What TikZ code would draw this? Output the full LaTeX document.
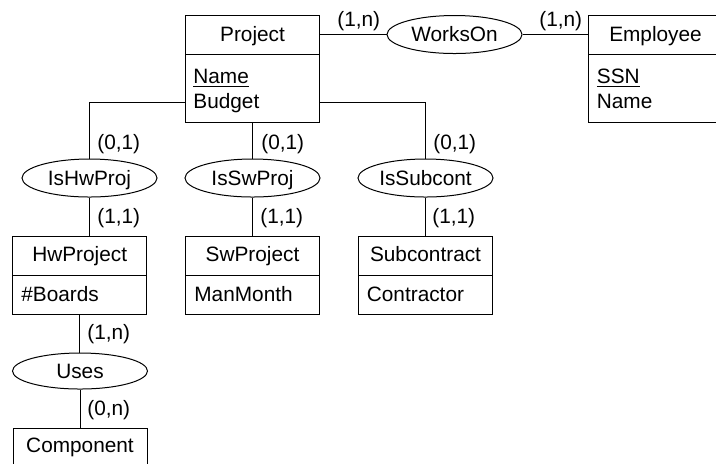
\documentclass[tikz,border=0pt]{standalone}
\usepackage{fontspec}
\setmainfont{Liberation Sans}
\usetikzlibrary{shapes.geometric}
\begin{document}
\begin{tikzpicture}[x=0.5pt,y=-0.5pt,
  every node/.style={font=\fontsize{10.4}{12.5}\selectfont},
  line/.style={draw=black,line width=0.5pt},
  entity/.style={draw=black,line width=0.5pt,rectangle,minimum width=67pt,inner sep=0pt},
  rel/.style={draw=black,line width=0.5pt,ellipse,minimum width=67.5pt,minimum height=19pt,
    inner sep=0pt,text height=7.4pt,text depth=0pt},
  title/.style={anchor=base,inner sep=0pt},
  attr/.style={anchor=base west,inner sep=0pt},
  card/.style={anchor=base west,inner sep=0pt}
]
\clip (0,0) rectangle (716,463);

% helper rows
\coordinate (headrow) at (0,54);
\coordinate (budgetrow) at (0,102);

% entities
\node[entity,minimum height=53.5pt] (project) at (252.5,68.5) {};
\draw[line] (project.west |- headrow) -- (project.east |- headrow);
\node[title] (projectT) at (252.5,41) {Project};
\node[attr] (projectA1) at (193,83) {\underline{Name}};
\node[attr] (projectA2) at (193,108.5) {Budget};

\node[entity,minimum height=53.5pt] (employee) at (655.5,68.5) {};
\draw[line] (employee.west |- headrow) -- (employee.east |- headrow);
\node[title] (employeeT) at (655.5,41) {Employee};
\node[attr] (employeeA1) at (596.5,83) {\underline{SSN}};
\node[attr] (employeeA2) at (596.5,108.5) {Name};

\node[entity,minimum height=39pt] (hw) at (79.7,275) {};
\draw[line] (hw.west) -- (hw.east);
\node[title] (hwT) at (79.7,261.5) {HwProject};
\node[attr] (hwA) at (21,301.5) {\#Boards};

\node[entity,minimum height=39pt] (sw) at (252.5,275) {};
\draw[line] (sw.west) -- (sw.east);
\node[title] (swT) at (252.5,261.5) {SwProject};
\node[attr] (swA) at (194,301.5) {ManMonth};

\node[entity,minimum height=39pt] (sub) at (425.5,275) {};
\draw[line] (sub.west) -- (sub.east);
\node[title] (subT) at (425.5,261.5) {Subcontract};
\node[attr] (subA) at (366.5,301.5) {Contractor};

\node[entity,minimum height=42pt] (comp) at (80,470) {};
\node[title] (compT) at (80,452) {Component};

% relationships
\node[rel] (worksOn) at (454.5,34.5) {WorksOn};
\node[rel] (ishw) at (89.5,178) {IsHwProj};
\node[rel] (issw) at (252.5,178) {IsSwProj};
\node[rel] (issub) at (425.5,178) {IsSubcont};
\node[rel,minimum height=18pt] (uses) at (80,371) {Uses};

% connectors
\draw[line] (project.east |- worksOn) -- (worksOn.west);
\draw[line] (worksOn.east) -- (employee.west |- worksOn);
\draw[line] (project.west |- budgetrow) -| (ishw.north);
\draw[line] (project.south) -- (issw.north);
\draw[line] (project.east |- budgetrow) -| (issub.north);
\draw[line] (ishw.south) -- (ishw.south |- hw.north);
\draw[line] (issw.south) -- (sw.north);
\draw[line] (issub.south) -- (sub.north);
\draw[line] (hw.south) -- (hw.south |- uses.north);
\draw[line] (uses.south) -- (comp.north);

% cardinalities
\node[card] (c1) at (337,26) {(1,n)};
\node[card] (c2) at (539,26) {(1,n)};
\node[card] (c3) at (97,149) {(0,1)};
\node[card] (c4) at (261,149) {(0,1)};
\node[card] (c5) at (433,149) {(0,1)};
\node[card] (c6) at (97,223) {(1,1)};
\node[card] (c7) at (260,223) {(1,1)};
\node[card] (c8) at (432,223) {(1,1)};
\node[card] (c9) at (87,339) {(1,n)};
\node[card] (c10) at (87,415) {(0,n)};
\end{tikzpicture}
\end{document}
